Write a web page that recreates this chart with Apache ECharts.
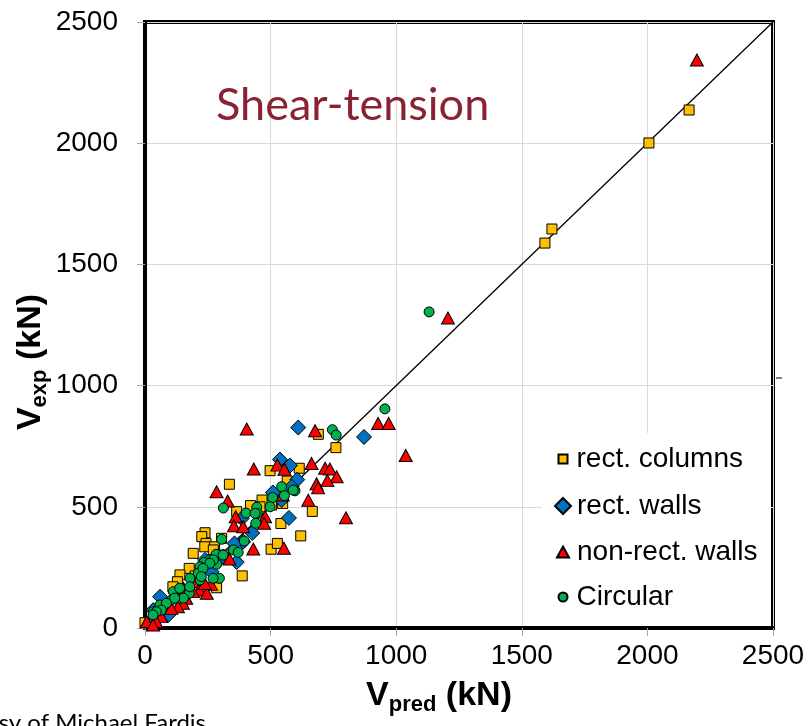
<!DOCTYPE html>
<html>
<head>
<meta charset="utf-8">
<script src="https://cdn.jsdelivr.net/npm/echarts@6/dist/echarts.min.js"></script>
<style>
  html, body { margin: 0; padding: 0; background: #fff; }
  #shear { width: 809px; height: 726px; }
</style>
</head>
<body>
<div id="shear"></div>
<script>
// values, [V_pred, V_exp] in kN
var rectColumns = [
  [2166,2137],[2006,2001],[1620,1646],[1592,1588],
  [760,744],[690,799],[614,659],[566,606],[666,481],[620,380],[541,431],[502,325],[527,349],
  [387,215],[498,649],[548,514],[504,507],[466,528],[420,505],[365,480],[336,593],
  [239,393],[226,377],[243,349],[305,370],[192,308],[176,246],[139,219],[129,191],[111,170],[285,166],
  [238,335],[277,335],[312,301],[272,322],[458,500],[0,22],[60,60],[200,215],[150,150]
];
var rectWalls = [
  [610,827],[872,788],[537,695],[577,670],[606,612],[584,583],[573,454],[509,559],[544,528],
  [427,392],[385,452],[391,356],[356,349],[365,272],[312,294],[265,232],[211,191],[239,281],
  [93,54],[60,129],[33,74],[32,19]
];
var nonRectWalls = [
  [2197,2343],[1206,1279],[1038,712],[928,844],[970,844],[405,821],[677,814],[663,679],
  [717,659],[736,656],[763,624],[683,595],[726,608],[689,578],[650,527],[800,455],[553,329],[431,326],
  [433,656],[527,672],[555,655],[285,562],[329,524],[361,459],[478,459],[474,432],[354,422],[391,418],
  [548,549],[336,285],[263,180],[206,191],[216,157],[153,164],[246,143],[238,184],
  [191,150],[164,123],[151,102],[131,88],[105,81],[65,47],[45,26],[7,26],[32,12]
];
var circular = [
  [1131,1304],[955,904],[746,818],[761,796],[544,583],[597,566],[555,546],[508,538],[590,569],
  [312,495],[445,498],[447,473],[402,474],[441,432],[305,366],[395,359],[352,322],[371,312],
  [283,304],[259,281],[235,270],[219,253],[212,226],[285,263],[296,205],[219,198],[179,205],
  [176,143],[113,150],[106,116],[153,123],[33,67],[60,95],[311,301],[498,500],[438,473],
  [272,281],[258,267],[231,246],[224,212],[271,205],[178,170],[138,164],[118,123],[85,102],
  [65,74],[45,67],[32,54]
];
var equalityLine = [[0,0],[2500,2500]];
var axisTicks = [0, 500, 1000, 1500, 2000, 2500];

var chartDom = document.getElementById('shear');
var myChart = echarts.init(chartDom);
var option;

var numFont = 'Liberation Sans, Arial, sans-serif';

function legendFor(name, icon, left, top, w, h, pad) {
  return {
    data: [name],
    icon: icon,
    left: left,
    top: top,
    padding: 0,
    itemWidth: w,
    itemHeight: h,
    selectedMode: false,
    textStyle: { fontFamily: numFont, fontSize: 28, color: '#000', padding: [0, 0, 0, pad] }
  };
}

function axisCommon(name, nameGap, rotate, namePad) {
  return {
    type: 'value',
    min: axisTicks[0],
    max: axisTicks[axisTicks.length - 1],
    interval: 500,
    name: name,
    nameLocation: 'middle',
    nameGap: nameGap,
    nameRotate: rotate,
    nameMoveOverlap: false,
    nameTextStyle: {
      color: '#000',
      padding: namePad,
      rich: {
        v: { fontFamily: numFont, fontSize: 34, fontWeight: 'bold', lineHeight: 40, color: '#000' },
        s: { fontFamily: numFont, fontSize: 22, fontWeight: 'bold', lineHeight: 22, verticalAlign: 'bottom', color: '#000' }
      }
    },
    axisLine: { show: true, lineStyle: { color: '#000', width: 4 } },
    axisTick: { show: true, inside: false, length: 8, lineStyle: { color: '#a6a6a6' } },
    splitLine: { show: true, lineStyle: { color: '#d9d9d9', width: 1 } },
    axisLabel: {
      fontFamily: numFont, fontSize: 28, color: '#000',
      formatter: function (v) { return String(v); }
    }
  };
}

var xAx = axisCommon('{v|V}{s|pred}{v| (kN)}', 48, 0, [0, 40, 0, 0]);
xAx.axisLabel.margin = 14;
var yAx = axisCommon('{v|V}{s|exp}{v| (kN)}', 94, 90, [0, 74, 0, 0]);
yAx.axisLabel.margin = 27;

option = {
  backgroundColor: '#fff',
  animation: false,
  title: {
    text: 'Shear-tension',
    left: 216,
    top: 83,
    padding: 0,
    textStyle: { fontFamily: 'Lato, Open Sans, sans-serif', fontSize: 45, fontWeight: 'normal', color: '#8B2232' }
  },
  grid: {
    left: 145, top: 22, width: 628, height: 606,
    containLabel: false, outerBoundsMode: 'none',
    show: true, borderColor: '#000', borderWidth: 4, backgroundColor: 'transparent'
  },
  legend: [
    legendFor('rect. columns', 'rect', 557.5, 445, 9, 9, 4),
    legendFor('rect. walls', 'diamond', 554, 492, 16, 16, 1),
    legendFor('non-rect. walls', 'triangle', 556, 538, 12, 11, 3),
    legendFor('Circular', 'circle', 557.5, 583, 9, 9, 4)
  ],
  xAxis: xAx,
  yAxis: yAx,
  graphic: [
    { type: 'rect', z: 1, shape: { x: 542, y: 433, width: 229, height: 193 }, style: { fill: '#fff' } },
    { type: 'line', z: 1, shape: { x1: 776, y1: 378, x2: 782, y2: 378 }, style: { stroke: '#000', lineWidth: 1 } },
    { type: 'text', x: 206, y: 711, z: 10,
      style: { text: 'Courtesy of Michael Fardis', textAlign: 'right', textVerticalAlign: 'top', font: '24px Lato, sans-serif', fill: '#000' } }
  ],
  series: [
    {
      name: 'fit', type: 'line', data: equalityLine, showSymbol: false, symbol: 'none',
      lineStyle: { color: '#000', width: 1.3 }, z: 1, silent: true
    },
    {
      name: 'rect. columns', type: 'scatter', symbol: 'rect', symbolSize: 10, data: rectColumns,
      itemStyle: { color: '#FFC000', borderColor: '#000', borderWidth: 1, opacity: 1 }
    },
    {
      name: 'rect. walls', type: 'scatter', symbol: 'diamond', symbolSize: 15, data: rectWalls,
      itemStyle: { color: '#0070C0', borderColor: '#000', borderWidth: 1, opacity: 1 }
    },
    {
      name: 'non-rect. walls', type: 'scatter', symbol: 'triangle', symbolSize: [13, 12], data: nonRectWalls,
      itemStyle: { color: '#FF0000', borderColor: '#000', borderWidth: 1, opacity: 1 }
    },
    {
      name: 'Circular', type: 'scatter', symbol: 'circle', symbolSize: 10, data: circular,
      itemStyle: { color: '#00B050', borderColor: '#000', borderWidth: 1, opacity: 1 }
    }
  ]
};

option && myChart.setOption(option);
</script>
</body>
</html>
